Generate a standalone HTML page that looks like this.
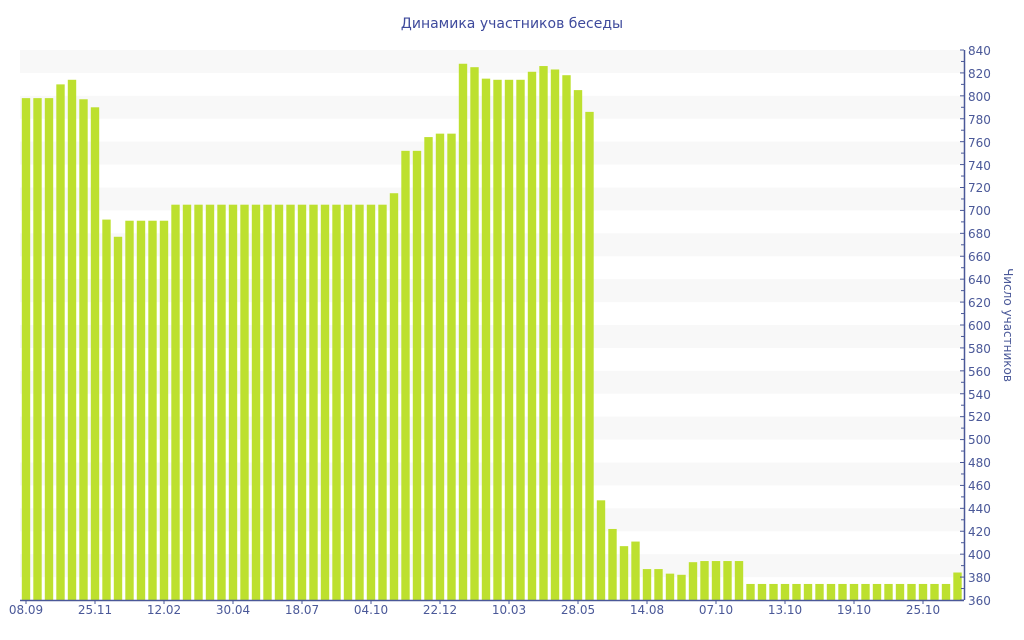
<!DOCTYPE html>
<html><head><meta charset="utf-8"><style>
body{margin:0;background:#fff;}
svg{display:block;font-family:"DejaVu Sans","Liberation Sans",sans-serif;}
text{fill:#4a5898;font-size:12px;}
</style></head><body>
<svg id="s" width="1024" height="640" xmlns="http://www.w3.org/2000/svg">
<g id="bands"></g>
<g id="bars"></g>
<line x1="20" y1="600.5" x2="964" y2="600.5" stroke="#4a5898" stroke-width="1.5"/>
<line x1="964.5" y1="50" x2="964.5" y2="600" stroke="#4a5898" stroke-width="1.5"/>
<g id="ticks" stroke="#4a5898"></g>
<text x="512" y="28" text-anchor="middle" style="font-size:14px;fill:#3e4a9c">Динамика участников беседы</text>
<g text-anchor="start">
<text x="968" y="55">840</text><text x="968" y="78">820</text><text x="968" y="101">800</text><text x="968" y="124">780</text><text x="968" y="147">760</text><text x="968" y="170">740</text><text x="968" y="192">720</text><text x="968" y="215">700</text><text x="968" y="238">680</text><text x="968" y="261">660</text><text x="968" y="284">640</text><text x="968" y="307">620</text><text x="968" y="330">600</text><text x="968" y="353">580</text><text x="968" y="376">560</text><text x="968" y="399">540</text><text x="968" y="421">520</text><text x="968" y="444">500</text><text x="968" y="467">480</text><text x="968" y="490">460</text><text x="968" y="513">440</text><text x="968" y="536">420</text><text x="968" y="559">400</text><text x="968" y="582">380</text><text x="968" y="605">360</text>
</g>
<g text-anchor="middle">
<text x="26" y="614">08.09</text><text x="95" y="614">25.11</text><text x="164" y="614">12.02</text><text x="233" y="614">30.04</text><text x="302" y="614">18.07</text><text x="371" y="614">04.10</text><text x="440" y="614">22.12</text><text x="509" y="614">10.03</text><text x="578" y="614">28.05</text><text x="647" y="614">14.08</text><text x="716" y="614">07.10</text><text x="785" y="614">13.10</text><text x="854" y="614">19.10</text><text x="923" y="614">25.10</text>
</g>
<text transform="translate(1004,325) rotate(90)" text-anchor="middle">Число участников</text>
</svg>
<script>
var NS="http://www.w3.org/2000/svg";
function Y(v){return 600-(v-360)*550/480;}
function el(p,t,a){var e=document.createElementNS(NS,t);for(var k in a)e.setAttribute(k,a[k]);document.getElementById(p).appendChild(e);}
for(var v=360;v<840;v+=20){ if((v/20)%2==1) el("bands","rect",{x:20,y:Y(v+20),width:944,height:Y(v)-Y(v+20),fill:"#f8f8f8"}); }
var d=[798,798,798,810,814,797,790,692,677,691,691,691,691];
for(var i=13;i<=31;i++)d.push(705);
d=d.concat([715,752,752,764,767,767,828,825,815,814,814,814,821,826,823,818,805,786,447,422,407,411,387,387,383,382,393,394,394,394,394]);
for(var i=63;i<=80;i++)d.push(374);
d.push(384);
for(var i=0;i<d.length;i++){var cx=26+i*11.5;el("bars","rect",{x:cx-4.2,y:Y(d[i]),width:8.4,height:600-Y(d[i]),fill:"#bde02f"});}
for(var v=360;v<=840;v+=10){var y=Y(v);el("ticks","line",{x1:(v%20==0?960:961),y1:y,x2:964,y2:y});}
for(var i=0;i<14;i++){var x=26+i*69;el("ticks","line",{x1:x,y1:600,x2:x,y2:604});}
</script>
</body></html>
